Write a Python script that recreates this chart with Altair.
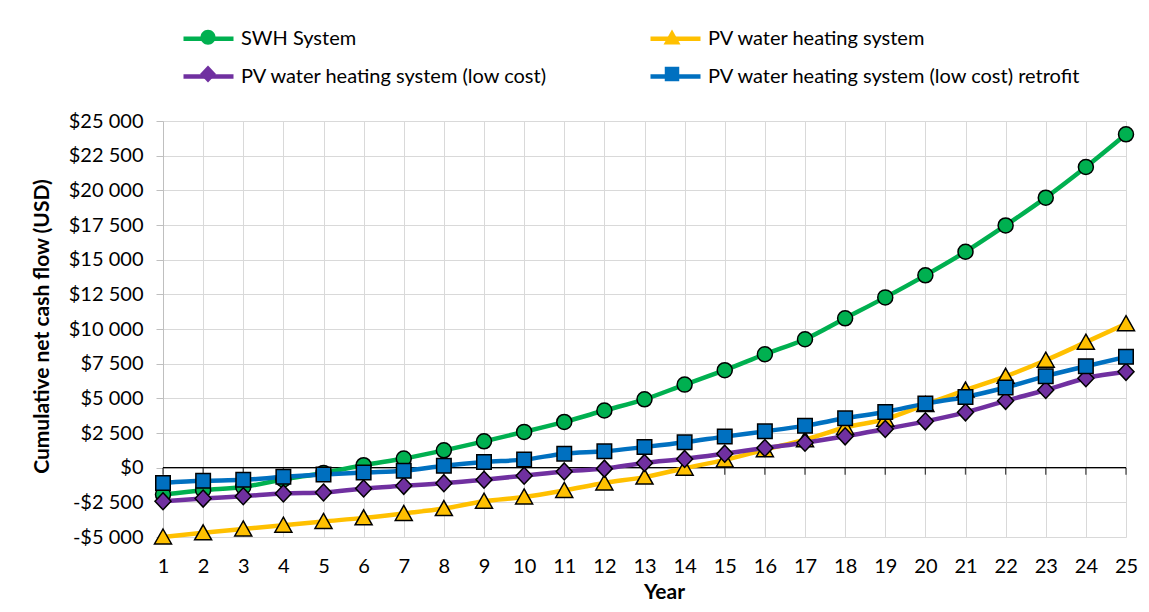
import altair as alt
import pandas as pd

years = list(range(1, 26))
swh = [-1940, -1630, -1390, -850, -380, 180, 660, 1250, 1900, 2580, 3300, 4120, 4930,
       5990, 7030, 8180, 9260, 10770, 12280, 13870, 15570, 17470, 19470, 21680, 24040]
pv = [-5000, -4700, -4420, -4150, -3880, -3620, -3300, -2950, -2420, -2110, -1640, -1100,
      -680, -40, 560, 1300, 2020, 2900, 3500, 4550, 5600, 6590, 7750, 9050, 10380]
pv_low = [-2420, -2230, -2060, -1860, -1790, -1500, -1310, -1120, -870, -580, -270, -70,
          340, 630, 1010, 1420, 1800, 2260, 2790, 3340, 3990, 4820, 5600, 6450, 6910]
retrofit = [-1100, -950, -880, -660, -490, -350, -230, 140, 410, 580, 1010, 1180, 1490,
            1830, 2240, 2620, 3030, 3560, 4020, 4620, 5100, 5780, 6600, 7310, 7990]
series_names = [
    "SWH System",
    "PV water heating system",
    "PV water heating system (low cost)",
    "PV water heating system (low cost) retrofit",
]
colors = ["#00B050", "#FFC000", "#7030A0", "#0070C0"]
y_ticks = list(range(-5000, 25001, 2500))

# marker shapes in Vega's [-1, 1] unit space; the leading moves give every legend
# symbol the same horizontal extent as the line symbol drawn under it
pad = "M-1.08,0M1.08,0"
marker_paths = [
    pad + "M-0.3,0A0.3,0.3,0,1,1,0.3,0A0.3,0.3,0,1,1,-0.3,0Z",
    pad + "M0,-0.32L0.34,0.28L-0.34,0.28Z",
    pad + "M0,-0.34L0.32,0L0,0.34L-0.32,0Z",
    pad + "M-0.29,-0.29L0.29,-0.29L0.29,0.29L-0.29,0.29Z",
]

# legend grid fills column by column
legend_idx = [0, 2, 1, 3]
legend_names = [series_names[i] for i in legend_idx]
legend_colors = [colors[i] for i in legend_idx]
legend_paths = [marker_paths[i] for i in legend_idx]

rows = []
for name, vals in zip(series_names, [swh, pv, pv_low, retrofit]):
    for yr, v in zip(years, vals):
        rows.append({"year": yr, "value": v, "name": name, "mk": name + "#"})
df = pd.DataFrame(rows)
axis_df = pd.DataFrame({"year": years, "value": [0] * len(years)})

FONT = "Lato"

x_enc = alt.X(
    "year:Q",
    scale=alt.Scale(domain=[1, 25], nice=False, zero=False),
    axis=alt.Axis(
        values=years, format="d", title="Year", grid=True, gridColor="#d9d9d9",
        domain=False, ticks=False, labelFontSize=20, labelPadding=19, labelFlush=False,
        labelColor="#000000", titleFontSize=21, titleFontWeight="bold",
        titleX=501, titleY=55, titleAlign="center", titleBaseline="middle",
        titleColor="#000000",
    ),
)
y_enc = alt.Y(
    "value:Q",
    scale=alt.Scale(domain=[-5000, 25000], nice=False, zero=False),
    axis=alt.Axis(
        values=y_ticks, title="Cumulative net cash flow (USD)", grid=True,
        gridColor="#d9d9d9", domainColor="#bfbfbf", tickColor="#bfbfbf", tickSize=7,
        labelFontSize=20, labelPadding=13, labelColor="#000000",
        labelExpr="(datum.value < 0 ? '-' : '') + '$' + replace(format(abs(datum.value), ','), ',', ' ')",
        titleFontSize=21, titleFontWeight="bold", titleColor="#000000",
        titleAngle=270, titleX=-121, titleY=205, titleAlign="center", titleBaseline="middle",
    ),
)

legend_common = dict(
    orient="none", legendX=18, legendY=-110, columns=2, title=None,
    labelFontSize=20, labelFont=FONT, labelColor="#000000", symbolSize=2500,
    rowPadding=0, columnPadding=93, padding=0, labelLimit=600,
)

zero_line = alt.Chart(axis_df).mark_line(color="black", strokeWidth=1.3).encode(
    x=x_enc, y=y_enc
)
zero_ticks = alt.Chart(axis_df).mark_tick(
    orient="vertical", size=7, thickness=1.3, yOffset=3.5, color="black"
).encode(x=x_enc, y=y_enc)

lines = alt.Chart(df).mark_line(strokeWidth=4.5, interpolate="monotone").encode(
    x=x_enc,
    y=y_enc,
    color=alt.Color(
        "name:N", scale=alt.Scale(domain=legend_names, range=legend_colors),
        legend=alt.Legend(symbolType="stroke", symbolStrokeWidth=4.5, labelOffset=5,
                          **legend_common),
    ),
    detail="name:N",
)

mk_legend = alt.Legend(symbolStrokeColor="black", symbolStrokeWidth=1.5, labelOffset=8,
                       symbolOffset=1, labelOpacity=0, symbolOpacity=1,
                       labelExpr="replace(datum.label, '#', '')", **legend_common)
mk_domain = [n + "#" for n in legend_names]
points = alt.Chart(df).mark_point(
    filled=True, stroke="black", strokeWidth=1.5, size=2500, opacity=1
).encode(
    x=x_enc,
    y=y_enc,
    fill=alt.Fill("mk:N", scale=alt.Scale(domain=mk_domain, range=legend_colors),
                  legend=mk_legend),
    shape=alt.Shape("mk:N", scale=alt.Scale(domain=mk_domain, range=legend_paths),
                    legend=mk_legend),
)

chart = (
    alt.layer(zero_line, zero_ticks, lines, points)
    .properties(
        width=963, height=416,
        autosize=alt.AutoSizeParams(type="none"),
        padding={"left": 155, "top": 113, "right": 15, "bottom": 75},
    )
    .configure(font=FONT)
    .configure_view(stroke="transparent")
    .configure_axis(labelFont=FONT, titleFont=FONT)
)

chart.save("out.html", embed_options={"renderer": "svg", "actions": False})
